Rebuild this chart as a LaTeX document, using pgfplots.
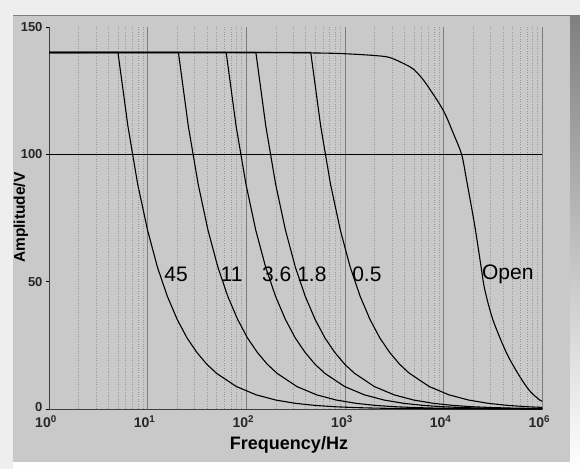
\documentclass[border=0pt]{standalone}
\usepackage{fontspec}
\setmainfont{Liberation Sans}
\usepackage{pgfplots}
\pgfplotsset{compat=1.18}
\definecolor{frame}{HTML}{EDEEED}
\definecolor{panel}{HTML}{C9C9C9}
\definecolor{shade}{HTML}{A9A9A9}
\definecolor{gridc}{HTML}{7D7D7D}
\begin{document}
\begin{tikzpicture}[x=1pt,y=1pt]
\useasboundingbox (0,0) rectangle (580,469);
\fill[frame] (0,0) rectangle (580,469);
\fill[shade] (13,0) rectangle (580,453);
\fill[panel] (13,7) rectangle (570,453);
\begin{axis}[
    at={(49pt,60pt)}, anchor=south west,
    scale only axis, width=493.3pt, height=382pt,
    xmode=log, xmin=1, xmax=100000,
    ymin=0, ymax=150,
    axis x line=bottom, axis y line=left,
    axis line style={-, draw=black!75, line width=1pt},
    xtick={1,10,100,1000,10000,100000},
    xticklabels={10\textsuperscript{0},10\textsuperscript{1},10\textsuperscript{2},10\textsuperscript{3},10\textsuperscript{4},10\textsuperscript{6}},
    minor xtick={2,3,4,5,6,7,8,9,20,30,40,50,60,70,80,90,200,300,400,500,600,700,800,900,2000,3000,4000,5000,6000,7000,8000,9000,20000,30000,40000,50000,60000,70000,80000,90000},
    xmajorgrids, xminorgrids,
    major grid style={gridc, line width=0.8pt},
    minor grid style={black!40, dash pattern=on 0.6pt off 1.8pt, line width=0.7pt},
    ytick={0,50,100,150},
    yticklabels={\raisebox{5pt}{0},50,100,150},
    tick align=outside, major tick length=3pt, minor tick length=0pt,
    xtick style={draw=none},
    ytick style={black, line width=0.8pt},
    /pgf/number format/assume math mode=true,
    ticklabel style={font=\fontsize{13}{13}\selectfont\bfseries, text=black!85},
    xticklabel style={font=\fontsize{14}{14}\selectfont\bfseries, xshift=-3pt, yshift=0pt},
    xlabel={Frequency/Hz}, ylabel={Amplitude/V},
    xlabel style={font=\fontsize{18}{18}\selectfont\bfseries, at={(axis description cs:0.4865,-0.093)}, anchor=center},
    ylabel style={font=\fontsize{15.5}{15.5}\selectfont\bfseries, at={(axis description cs:-0.0568,0.501)}, anchor=center},
]
% reference line at 100 V
\addplot[black, line width=1pt] coordinates {(1,100)(100000,100)};
% 45
\addplot[black, line width=1.1pt] coordinates {
 (1,140)(5,140)(6.3,111.2)(7.92,88.3)(9.98,70.2)(12.56,55.7)(15.81,44.3)(19.91,35.2)
 (25.06,27.9)(31.55,22.2)(39.72,17.6)(50,14)(79.3,8.83)(125.6,5.57)(199.1,3.52)
 (315.5,2.22)(500,1.4)(792.5,0.883)(1256,0.557)(1991,0.352)(3155,0.222)(5000,0.14)
 (10000,0.07)(100000,0.007)};
% 11
\addplot[black, line width=1.1pt] coordinates {
 (1,140)(20.5,140)(25.8,111.2)(32.5,88.3)(40.9,70.2)(51.5,55.7)(64.8,44.3)(81.6,35.2)
 (102.7,27.9)(129.4,22.2)(162.8,17.6)(205,14)(325,8.83)(515,5.57)(816,3.52)
 (1294,2.22)(2050,1.4)(3249,0.883)(5150,0.557)(8161,0.352)(12936,0.222)(20500,0.14)
 (100000,0.0287)};
% 3.6
\addplot[black, line width=1.1pt] coordinates {
 (1,140)(62.5,140)(78.7,111.2)(99.1,88.3)(124.7,70.2)(157,55.7)(197.6,44.3)(248.8,35.2)
 (313.3,27.9)(394.4,22.2)(496.4,17.6)(625,14)(990.6,8.83)(1570,5.57)(2488,3.52)
 (3944,2.22)(6250,1.4)(9906,0.883)(15700,0.557)(24880,0.352)(39440,0.222)(62500,0.14)
 (100000,0.0875)};
% 1.8
\addplot[black, line width=1.1pt] coordinates {
 (1,140)(125,140)(157.4,111.2)(198.1,88.3)(249.4,70.2)(314,55.7)(395.3,44.3)(497.6,35.2)
 (626.5,27.9)(788.8,22.2)(992.9,17.6)(1250,14)(1981,8.83)(3140,5.57)(4976,3.52)
 (7888,2.22)(12500,1.4)(19810,0.883)(31400,0.557)(49760,0.352)(78880,0.222)(100000,0.175)};
% 0.5
\addplot[black, line width=1.1pt] coordinates {
 (1,140)(450,140)(566.6,111.2)(713.3,88.3)(897.8,70.2)(1130,55.7)(1423,44.3)(1791,35.2)
 (2255,27.9)(2840,22.2)(3574,17.6)(4500,14)(7133,8.83)(11300,5.57)(17910,3.52)
 (28400,2.22)(45000,1.4)(71330,0.883)(100000,0.63)};
% Open
\addplot[black, line width=1.1pt, smooth, tension=0.5] coordinates {
 (1,140)(100,140)(500,139.8)(1000,139.5)(2000,138.8)(2850,138)(4000,135.5)(4920,133.5)
 (6000,130)(7240,125.6)(10000,117)(12600,108)(15200,100)(17060,90)(20700,71.8)
 (24200,54.7)(26100,46.9)(31600,35)(43400,22)(59200,12.7)(75000,7)(94400,3.5)(100000,3.1)};
\node[font=\fontsize{21}{21}\selectfont] at (axis cs:19.4,52.8) {45};
\node[font=\fontsize{21}{21}\selectfont] at (axis cs:71,52.8) {11};
\node[font=\fontsize{21}{21}\selectfont] at (axis cs:203,52.8) {3.6};
\node[font=\fontsize{21}{21}\selectfont] at (axis cs:462,52.8) {1.8};
\node[font=\fontsize{21}{21}\selectfont] at (axis cs:1667,52.8) {0.5};
\node[font=\fontsize{21}{21}\selectfont] at (axis cs:44700,52.8) {Open};
\end{axis}
\end{tikzpicture}
\end{document}
